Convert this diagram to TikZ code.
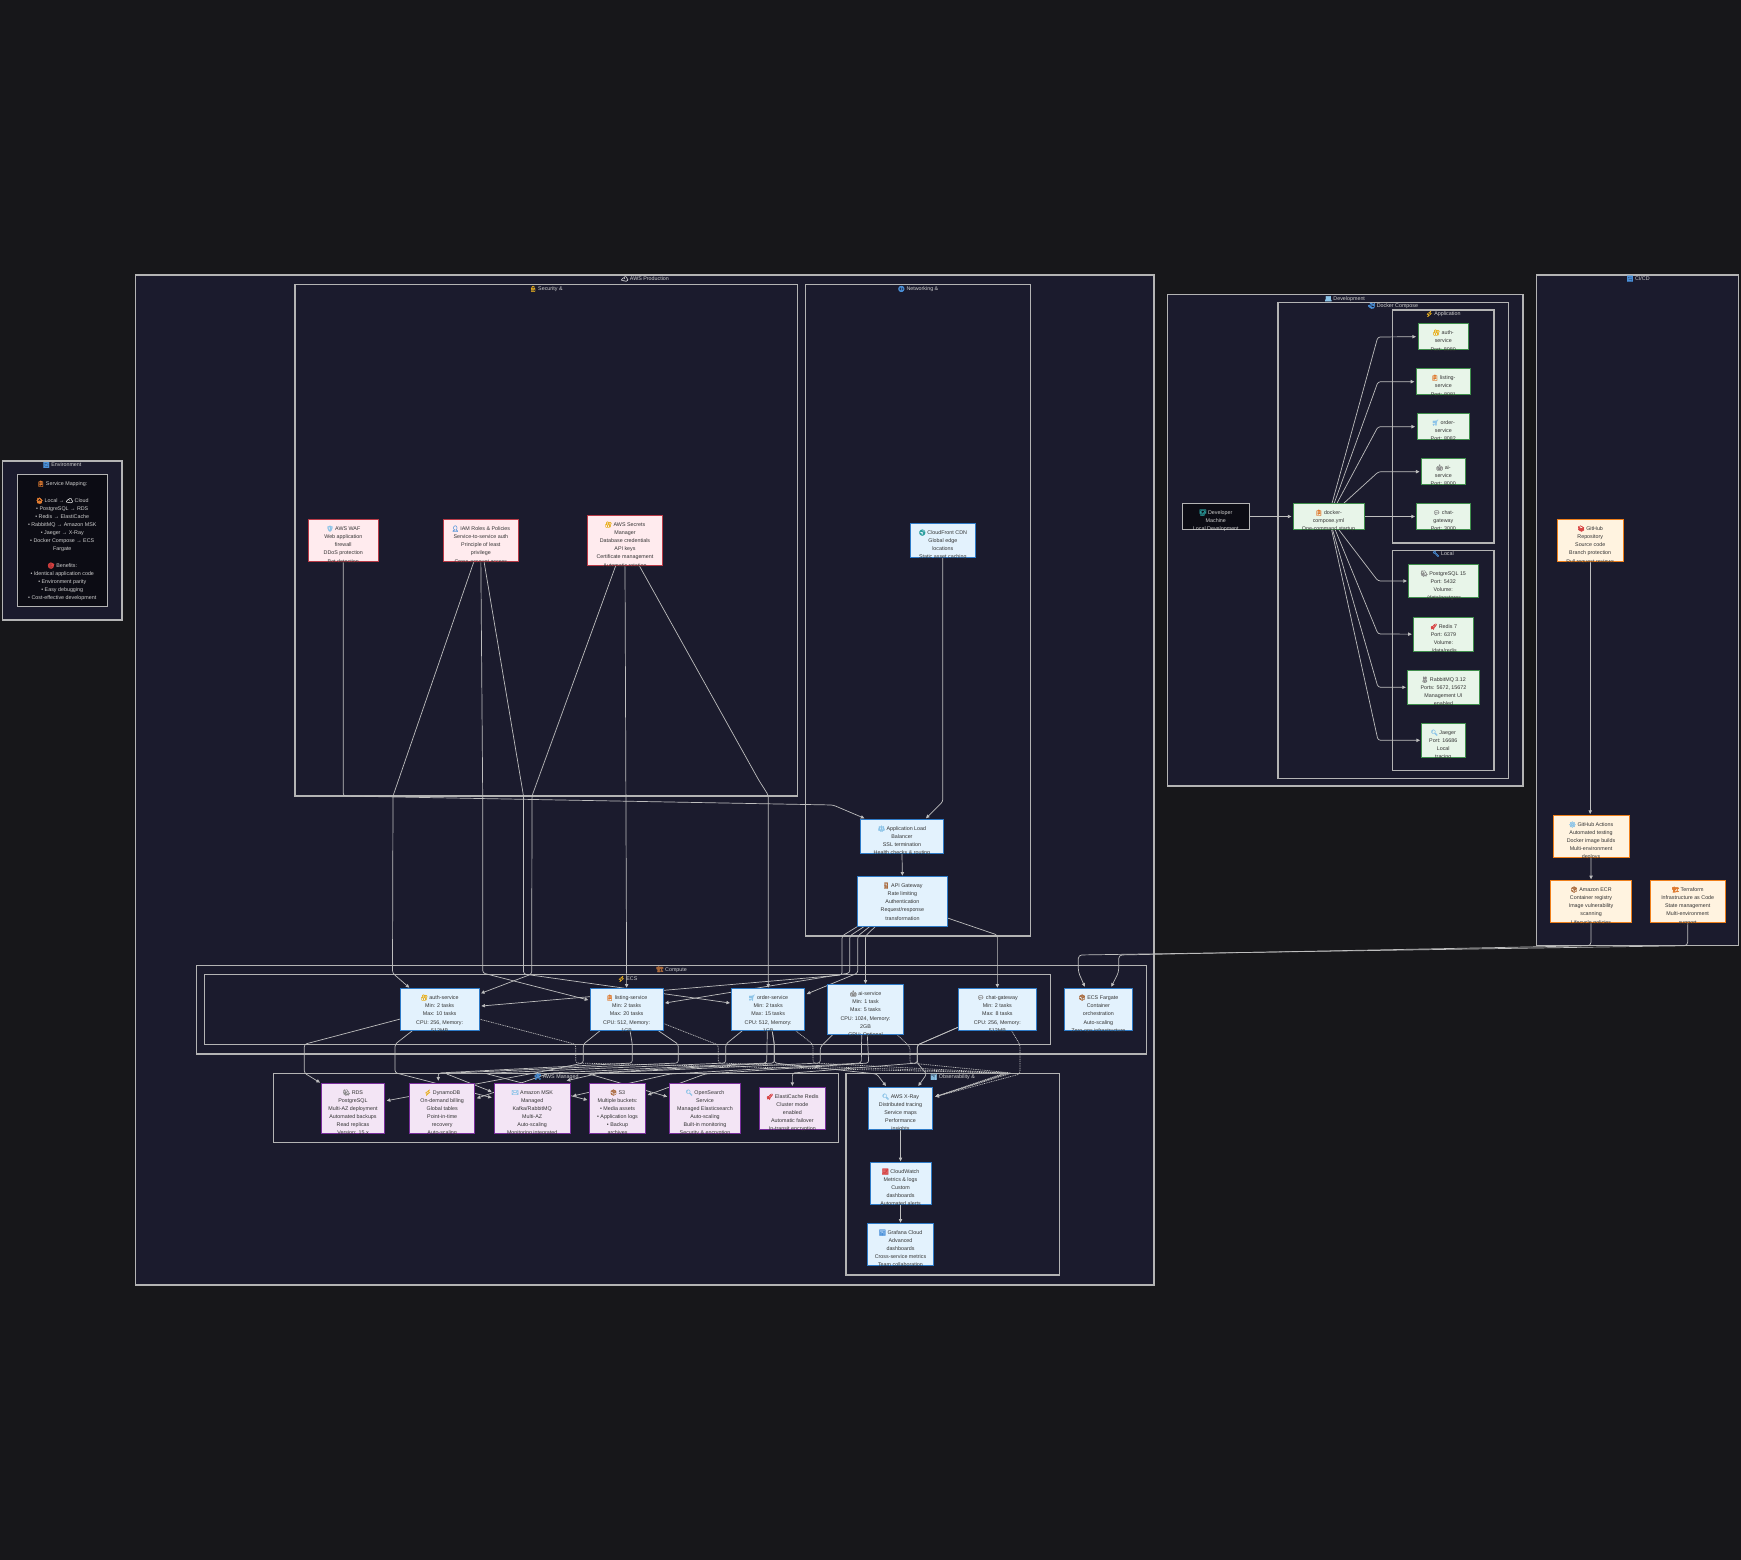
\documentclass[tikz,border=0pt]{standalone}
\usepackage{fontspec}
\setmainfont{Liberation Sans}
\newfontfamily\emj[Scale=1.08,FakeBold=1.5]{Noto Emoji}
\usetikzlibrary{arrows.meta}
\pgfdeclarelayer{clusters}
\pgfdeclarelayer{edges}
\pgfsetlayers{clusters,edges,main}
\definecolor{pagebg}{HTML}{17171A}
\definecolor{clfill}{HTML}{1B1B2D}
\definecolor{clline}{HTML}{B4B4B4}
\definecolor{edgecol}{HTML}{BEBEBE}
\definecolor{bodytext}{HTML}{333333}
\definecolor{lighttext}{HTML}{CFCFCF}
\definecolor{eBlue}{HTML}{4A90D9}
\definecolor{eLBlue}{HTML}{8CC4E8}
\definecolor{eYel}{HTML}{E8B020}
\definecolor{eOrg}{HTML}{E07B30}
\definecolor{eBrn}{HTML}{A8683A}
\definecolor{eRed}{HTML}{D84040}
\definecolor{eGry}{HTML}{8A8A8A}
\definecolor{eTeal}{HTML}{2A9D9D}
\definecolor{eWht}{HTML}{E8E8E8}
\newcommand{\emo}[2]{{\color{#1}\emj #2}}
\tikzset{
  base/.style={inner sep=0pt,outer sep=0pt,line width=1pt},
  prodbox/.style={base,fill=HTMLprodf,draw=HTMLprods},
  secbox/.style={base,fill=HTMLsecf,draw=HTMLsecs},
  mgdbox/.style={base,fill=HTMLmgdf,draw=HTMLmgds},
  devbox/.style={base,fill=HTMLdevf,draw=HTMLdevs},
  cicdbox/.style={base,fill=HTMLcif,draw=HTMLcis},
  darkbox/.style={base,fill=HTMLdkf,draw=clline},
  bodylabel/.style={inner sep=0pt,outer sep=0pt,align=center,anchor=north,text=bodytext,font=\fontsize{5.35}{8}\selectfont},
  lightlabel/.style={bodylabel,text=lighttext},
  clusterbox/.style={inner sep=0pt,outer sep=0pt,fill=clfill,draw=clline,line width=1.1pt},
  clusterlabel/.style={inner sep=0pt,outer sep=0pt,text=lighttext,font=\fontsize{5.35}{8}\selectfont},
  edge/.style={draw=edgecol,line width=.7pt,rounded corners=2.5pt,-{Triangle[length=3.6pt,width=3.3pt]}},
  dotedge/.style={edge,dash pattern=on 1pt off .8pt},
}
\definecolor{HTMLprodf}{HTML}{E3F2FD}\definecolor{HTMLprods}{HTML}{2E7BC8}
\definecolor{HTMLsecf}{HTML}{FFEBEE}\definecolor{HTMLsecs}{HTML}{B93A46}
\definecolor{HTMLmgdf}{HTML}{F3E5F5}\definecolor{HTMLmgds}{HTML}{7B2F9E}
\definecolor{HTMLdevf}{HTML}{E8F5E9}\definecolor{HTMLdevs}{HTML}{3F8F4C}
\definecolor{HTMLcif}{HTML}{FFF3E0}\definecolor{HTMLcis}{HTML}{EF7F1A}
\definecolor{HTMLdkf}{HTML}{0C0C14}
% name, box style, x1,y1,x2,y2, first line centre y, text style, text
\newcommand{\svc}[9]{%
  \node[#2,minimum width={(#5-#3)*1pt},minimum height={(#6-#4)*1pt}] (#1) at ({(#3+#5)/2},{(#4+#6)/2}) {};
  \begin{scope}
    \clip ({#3-6},#4) rectangle ({#5+6},{#6+1.3});
    \node[#8] (#1-text) at ({(#3+#5)/2},{#7-4.4}) {\rule{0pt}{7pt}#9};
  \end{scope}
}
% name, x1,y1,x2,y2, label, lx, ly
\newcommand{\cluster}[8]{%
  \begin{pgfonlayer}{clusters}
    \node[clusterbox,minimum width={(#4-#2)*1pt},minimum height={(#5-#3)*1pt}] (#1) at ({(#2+#4)/2},{(#3+#5)/2}) {};
  \end{pgfonlayer}
  \node[clusterlabel] (#1-label) at (#7,#8) {#6};
}
\begin{document}
\begin{tikzpicture}[x=1pt,y=-1pt]
\useasboundingbox (0,0) rectangle (1741,1560);
\begin{pgfonlayer}{clusters}
  \fill[pagebg] (0,0) rectangle (1741,1560);
\end{pgfonlayer}

% ---------- clusters
\cluster{clEnv}{2.7}{461}{122}{620}{\emo{eBlue}{🔄} Environment}{62}{465}
\cluster{clProd}{135.5}{275}{1154}{1285}{\emo{eWht}{☁} AWS Production}{645}{279}
\cluster{clSec}{295}{284.7}{797.5}{796}{\emo{eYel}{🔒} Security \&}{546}{289}
\cluster{clNet}{805.3}{284.7}{1030.7}{936}{\emo{eBlue}{🌐} Networking \&}{918}{289}
\cluster{clCompute}{196.3}{965.3}{1146.3}{1054}{\emo{eBrn}{🏗} Compute}{671.6}{969.3}
\cluster{clEcs}{204.7}{974.7}{1050.3}{1044.3}{\emo{eYel}{⚡} ECS}{627.5}{979}
\cluster{clMgd}{273.7}{1073.3}{838.7}{1142.7}{\emo{eBlue}{🛠} AWS Managed}{556.3}{1076.7}
\cluster{clObs}{846}{1073.3}{1059.3}{1275}{\emo{eLBlue}{📊} Observability \&}{952.5}{1077}
\cluster{clDev}{1167.4}{294.7}{1523}{786}{\emo{eLBlue}{💻} Development}{1344.8}{299}
\cluster{clDock}{1278}{302.3}{1508.5}{778.3}{\emo{eBlue}{🐳} Docker Compose}{1393}{306}
\cluster{clApp}{1392.6}{310}{1494}{543}{\emo{eYel}{⚡} Application}{1443}{314}
\cluster{clLoc}{1392.6}{550.3}{1494}{770.7}{\emo{eBlue}{🔧} Local}{1443}{553.7}
\cluster{clCi}{1536.3}{275}{1738.5}{945.7}{\emo{eBlue}{🔄} CI/CD}{1638}{278.7}

% ---------- environment note
\svc{note}{darkbox}{17}{474}{107.5}{606}{483}{lightlabel}{\emo{eOrg}{📋} Service Mapping:\\[9pt]
\emo{eOrg}{🏠} Local → \emo{eWht}{☁} Cloud\\
• PostgreSQL → RDS\\
• Redis → ElastiCache\\
• RabbitMQ → Amazon MSK\\
• Jaeger → X-Ray\\
• Docker Compose → ECS\\
Fargate\\[9pt]
\emo{eRed}{🎯} Benefits:\\
• Identical application code\\
• Environment parity\\
• Easy debugging\\
• Cost-effective development}

% ---------- security
\svc{waf}{secbox}{308.3}{519.3}{378.3}{561.7}{528}{bodylabel}{\emo{eLBlue}{🛡} AWS WAF\\Web application\\firewall\\DDoS protection\\[1pt]Bot detection}
\svc{iam}{secbox}{443.7}{519.3}{518}{561.7}{528}{bodylabel}{\emo{eBlue}{👤} IAM Roles \& Policies\\Service-to-service auth\\Principle of least\\privilege\\[1pt]Cross-account access}
\svc{sec}{secbox}{587.3}{515.3}{662.7}{565.7}{524}{bodylabel}{\emo{eYel}{🔐} AWS Secrets\\Manager\\Database credentials\\API keys\\Certificate management\\[1pt]Automatic rotation}

% ---------- networking
\svc{cf}{prodbox}{910.3}{523.3}{975.3}{557.3}{532}{bodylabel}{\emo{eTeal}{🌍} CloudFront CDN\\Global edge\\locations\\Static asset caching}
\svc{alb}{prodbox}{860.4}{819.3}{943.5}{853}{828}{bodylabel}{\emo{eLBlue}{⚖} Application Load\\Balancer\\SSL termination\\Health checks \& routing}
\svc{api}{prodbox}{857.3}{876.7}{947.5}{926.3}{885}{bodylabel}{\emo{eBrn}{🚪} API Gateway\\Rate limiting\\Authentication\\Request/response\\[1pt]transformation}

% ---------- compute
\svc{pAuth}{prodbox}{400.3}{988.7}{479}{1030.7}{997}{bodylabel}{\emo{eYel}{🔐} auth-service\\Min: 2 tasks\\Max: 10 tasks\\[1pt]CPU: 256, Memory:\\512MB}
\svc{pList}{prodbox}{590.3}{988.7}{663}{1030.7}{997}{bodylabel}{\emo{eOrg}{📋} listing-service\\Min: 2 tasks\\Max: 20 tasks\\[1pt]CPU: 512, Memory:\\1GB}
\svc{pOrd}{prodbox}{731.7}{988.7}{804.7}{1030.7}{997}{bodylabel}{\emo{eLBlue}{🛒} order-service\\Min: 2 tasks\\Max: 15 tasks\\[1pt]CPU: 512, Memory:\\1GB}
\svc{pAI}{prodbox}{827.7}{984.7}{903.3}{1034.7}{993}{bodylabel}{\emo{eGry}{🤖} ai-service\\Min: 1 task\\Max: 5 tasks\\[1pt]CPU: 1024, Memory:\\2GB\\GPU: Optional}
\svc{pChat}{prodbox}{958}{988.7}{1036.7}{1030.7}{997}{bodylabel}{\emo{eGry}{💬} chat-gateway\\Min: 2 tasks\\Max: 8 tasks\\[1pt]CPU: 256, Memory:\\512MB}
\svc{far}{prodbox}{1064}{988.7}{1132.7}{1030.7}{997}{bodylabel}{\emo{eBrn}{📦} ECS Fargate\\Container\\orchestration\\[1pt]Auto-scaling\\Zero-ops infrastructure}

% ---------- managed
\svc{rds}{mgdbox}{321.3}{1083.3}{384.7}{1133.3}{1092}{bodylabel}{\emo{eGry}{🐘} RDS\\PostgreSQL\\Multi-AZ deployment\\Automated backups\\Read replicas\\Version: 15.x}
\svc{dyn}{mgdbox}{409.7}{1083.3}{474.7}{1133.3}{1092}{bodylabel}{\emo{eYel}{⚡} DynamoDB\\On-demand billing\\Global tables\\Point-in-time\\recovery\\Auto-scaling}
\svc{msk}{mgdbox}{494}{1083.3}{570.3}{1133.3}{1092}{bodylabel}{\emo{eLBlue}{✉} Amazon MSK\\Managed\\Kafka/RabbitMQ\\Multi-AZ\\Auto-scaling\\Monitoring integrated}
\svc{s3}{mgdbox}{589.7}{1083.3}{645.3}{1133.3}{1092}{bodylabel}{\emo{eBrn}{📦} S3\\Multiple buckets:\\• Media assets\\• Application logs\\• Backup\\archives}
\svc{os}{mgdbox}{669.7}{1083.3}{740.3}{1133.3}{1092}{bodylabel}{\emo{eLBlue}{🔍} OpenSearch\\Service\\Managed Elasticsearch\\Auto-scaling\\Built-in monitoring\\Security \& encryption}
\svc{cache}{mgdbox}{759.7}{1087.3}{825}{1129}{1096}{bodylabel}{\emo{eRed}{🚀} ElastiCache Redis\\Cluster mode\\enabled\\Automatic failover\\In-transit encryption}

% ---------- observability
\svc{xray}{prodbox}{868.7}{1087}{932.3}{1129}{1096}{bodylabel}{\emo{eLBlue}{🔍} AWS X-Ray\\Distributed tracing\\Service maps\\Performance\\insights}
\svc{cw}{prodbox}{870}{1162.3}{931}{1204}{1171}{bodylabel}{\emo{eRed}{📈} CloudWatch\\Metrics \& logs\\Custom\\dashboards\\Automated alerts}
\svc{graf}{prodbox}{867.3}{1223.7}{933.7}{1265.3}{1232}{bodylabel}{\emo{eBlue}{📊} Grafana Cloud\\Advanced\\dashboards\\Cross-service metrics\\Team collaboration}

% ---------- development
\svc{devm}{darkbox}{1182}{503.7}{1249.6}{529.3}{512}{lightlabel}{\emo{eTeal}{👨‍💻} Developer\\Machine\\Local Development}
\svc{cmp}{devbox}{1293}{503.7}{1364}{529.3}{512}{bodylabel}{\emo{eOrg}{📋} docker-\\compose.yml\\One-command startup}
\svc{dAuth}{devbox}{1418}{323.7}{1468.5}{349.7}{332}{bodylabel}{\emo{eYel}{🔐} auth-\\service\\[1pt]Port: 8080}
\svc{dList}{devbox}{1416.3}{368.7}{1470.4}{394.7}{377}{bodylabel}{\emo{eOrg}{📋} listing-\\service\\[1pt]Port: 8081}
\svc{dOrd}{devbox}{1417}{413.7}{1469.6}{439.7}{422}{bodylabel}{\emo{eLBlue}{🛒} order-\\service\\Port: 8082}
\svc{dAI}{devbox}{1421}{458.7}{1465.6}{484.7}{467}{bodylabel}{\emo{eGry}{🤖} ai-\\service\\Port: 8000}
\svc{dChat}{devbox}{1416.7}{503.7}{1470}{529.3}{512}{bodylabel}{\emo{eGry}{💬} chat-\\gateway\\Port: 3000}
\svc{dPg}{devbox}{1408.5}{564.3}{1478}{597.7}{573}{bodylabel}{\emo{eGry}{🐘} PostgreSQL 15\\Port: 5432\\Volume:\\./data/postgres}
\svc{dRed}{devbox}{1413.3}{617.3}{1473.7}{651}{626}{bodylabel}{\emo{eRed}{🚀} Redis 7\\Port: 6379\\Volume:\\./data/redis}
\svc{dRab}{devbox}{1407.4}{670.3}{1479.6}{704.3}{679}{bodylabel}{\emo{eGry}{🐰} RabbitMQ 3.12\\Ports: 5672, 15672\\Management UI\\enabled}
\svc{dJae}{devbox}{1421.5}{723.3}{1465}{757.3}{732}{bodylabel}{\emo{eLBlue}{🔍} Jaeger\\Port: 16686\\Local\\tracing}

% ---------- CI/CD
\svc{repo}{cicdbox}{1557.4}{519.3}{1623}{561.7}{528}{bodylabel}{\emo{eRed}{📚} GitHub\\Repository\\Source code\\Branch protection\\[1pt]Pull request reviews}
\svc{acts}{cicdbox}{1553}{815}{1629}{857.3}{824}{bodylabel}{\emo{eLBlue}{⚙} GitHub Actions\\Automated testing\\Docker image builds\\Multi-environment\\deploys}
\svc{ecr}{cicdbox}{1550.4}{880.3}{1631.7}{922.7}{889}{bodylabel}{\emo{eBrn}{📦} Amazon ECR\\Container registry\\Image vulnerability\\scanning\\[1pt]Lifecycle policies}
\svc{tf}{cicdbox}{1650.4}{880.3}{1725}{922.7}{889}{bodylabel}{\emo{eOrg}{🏗} Terraform\\Infrastructure as Code\\State management\\Multi-environment\\[1pt]support}

% ---------- connectors
\begin{pgfonlayer}{edges}
% networking
\draw[edge] (waf.south) -- (343.3,796) -- (833,805) -- ([xshift=-37.5pt,yshift=1pt]alb.north);
\draw[edge] (cf.south) -- (942.8,801.7) -- ([xshift=24pt,yshift=1pt]alb.north);
\draw[edge] (alb.south) -- ([yshift=1pt]api.north);
\draw[edge] ([xshift=-44.6pt]api.south) -- (842,936) -- (842,975) -- ([xshift=2.4pt,yshift=3.7pt]pAuth.east);
\draw[edge] ([xshift=-37.9pt]api.south) -- (849.7,936) -- (849.7,973) -- ([xshift=2pt,yshift=6.7pt]pList.east);
\draw[edge] ([xshift=-32.4pt]api.south) -- (857.8,936) -- (857.8,973) -- ([xshift=2pt,yshift=15.7pt]pOrd.east);
\draw[edge] ([xshift=-26.8pt]api.south) -- (865.4,936) -- ([yshift=1pt]pAI.north);
\draw[edge] ([yshift=-16.5pt]api.east) -- (997.35,935) -- ([yshift=1pt]pChat.north);
% IAM and secrets
\draw[edge] ([xshift=-7pt]iam.south) -- (393,796) -- (392.5,973) -- ([xshift=-30.3pt,yshift=1pt]pAuth.north);
\draw[edge] (iam.south) -- (482.7,796) -- (482.7,973) -- ([xshift=-2pt,yshift=9.7pt]pList.west);
\draw[edge] ([xshift=3.2pt]iam.south) -- (523.5,796) -- (523.5,974) -- ([xshift=-1.7pt,yshift=6.7pt]pOrd.west);
\draw[edge] ([xshift=-9.3pt]sec.south) -- (532,796) -- (531.7,974) -- ([xshift=2pt,yshift=16.4pt]pAuth.east);
\draw[edge] (sec.south) -- ([yshift=1pt]pList.north);
\draw[edge] ([xshift=14.3pt]sec.south) -- (758.7,780) -- (768.2,795) -- ([yshift=1pt]pOrd.north);
% services to managed
\draw[edge] ([yshift=-9.3pt]pAuth.west) -- (304.3,1044.3) -- (304.3,1073) -- ([xshift=-1.3pt,yshift=.7pt]rds.north west);
\draw[edge] ([xshift=-27.3pt]pAuth.south) -- (395,1044.3) -- (395,1072.7) -- ([xshift=-2.3pt,yshift=10.6pt]msk.west);
\draw[edge] ([xshift=-26.6pt]pList.south) -- (583.3,1044.3) -- (583.3,1063) -- (540,1072) -- ([xshift=2pt,yshift=7.6pt]rds.east);
\draw[edge] ([xshift=3.4pt]pList.south) -- (632.3,1044.3) -- (632.3,1063) -- (438.3,1073) -- ([xshift=-3.9pt,yshift=2.6pt]dyn.north);
\draw[edge] ([xshift=31.7pt]pList.south) -- (678.3,1044.3) -- (678.3,1063) -- (445,1073.3) -- ([xshift=-2.3pt,yshift=16.6pt]msk.west);
\draw[edge] ([xshift=-25.9pt]pOrd.south) -- (725.7,1044.3) -- (725.7,1063) -- (485,1073.3) -- ([xshift=-2.4pt,yshift=8.3pt]s3.west);
\draw[edge] ([xshift=-.9pt]pOrd.south) -- (766.7,1063) -- (550,1073) -- ([xshift=2pt,yshift=10pt]dyn.east);
\draw[edge] ([xshift=4pt]pOrd.south) -- (774.3,1044.3) -- (774.3,1063) -- (586.7,1073.3) -- ([xshift=-2.4pt,yshift=11.6pt]os.west);
\draw[edge] ([xshift=-32.8pt]pAI.south) -- (820.3,1047) -- (820.3,1063) -- (600,1073) -- ([xshift=34.5pt,yshift=2.6pt]msk.north);
\draw[edge] ([xshift=-3.8pt]pAI.south) -- (861.3,1063) -- (670,1074) -- ([xshift=2.4pt,yshift=12.3pt]msk.east);
\draw[edge] ([xshift=1.8pt]pAI.south) -- (868.7,1063) -- (705,1074) -- ([xshift=2.4pt,yshift=13.3pt]s3.east);
\draw[edge] ([yshift=-17.6pt]pChat.west) -- (917.3,1045) -- (917.3,1063) -- (792.4,1073) -- ([yshift=1.3pt]cache.north);
\draw[edge] ([xshift=4pt]pOrd.south) -- (774.3,1044.3) -- (774.3,1063) -- (876.7,1074) -- ([xshift=-14.5pt,yshift=1pt]xray.north);
\draw[edge] ([yshift=-17.6pt]pChat.west) -- (917.3,1045) -- (917.3,1063) -- (926.7,1074) -- ([xshift=17.8pt,yshift=1pt]xray.north);
% services to tracing
\draw[dotedge] ([yshift=-9.3pt]pAuth.east) -- (575.7,1044.3) -- (575.7,1063) -- (1005,1073) -- ([xshift=3pt,yshift=11.3pt]xray.east);
\draw[dotedge] ([yshift=-13.6pt]pList.east) -- (718.3,1045) -- (718.3,1063) -- (1007,1073) -- ([xshift=3pt,yshift=11.3pt]xray.east);
\draw[dotedge] ([xshift=27.5pt]pOrd.south) -- (813,1044.3) -- (813,1063) -- (1009,1073) -- ([xshift=3pt,yshift=11.3pt]xray.east);
\draw[dotedge] ([xshift=31.8pt]pAI.south) -- (910,1047) -- (910,1063) -- (1012,1073) -- ([xshift=3pt,yshift=11.3pt]xray.east);
\draw[dotedge] ([xshift=14.3pt]pChat.south) -- (1020,1045) -- (1020,1074) -- ([xshift=3pt,yshift=11.3pt]xray.east);
% observability chain
\draw[edge] (xray.south) -- ([yshift=1pt]cw.north);
\draw[edge] (cw.south) -- ([yshift=1pt]graf.north);
% development
\draw[edge] (devm.east) -- ([xshift=-1.5pt]cmp.west);
\draw[edge] ([xshift=3.4pt]cmp.north) -- (1377.8,337) -- ([xshift=-2pt]dAuth.west);
\draw[edge] ([xshift=5.5pt]cmp.north) -- (1378,381.7) -- ([xshift=-2pt]dList.west);
\draw[edge] ([xshift=8.2pt]cmp.north) -- (1378,426.7) -- ([xshift=-2pt]dOrd.west);
\draw[edge] ([xshift=14.8pt]cmp.north) -- (1378.5,471.7) -- ([xshift=-1.5pt]dAI.west);
\draw[edge] (cmp.east) -- ([xshift=-1.7pt]dChat.west);
\draw[edge] ([xshift=10pt]cmp.south) -- (1378,581) -- ([xshift=-1.5pt]dPg.west);
\draw[edge] ([xshift=6.5pt]cmp.south) -- (1378,634) -- ([xshift=-1.5pt]dRed.west);
\draw[edge] ([xshift=4pt]cmp.south) -- (1378,687.3) -- ([xshift=-1.5pt]dRab.west);
\draw[edge] ([xshift=3pt]cmp.south) -- (1378,740.3) -- ([xshift=-1.5pt]dJae.west);
% CI/CD
\draw[edge] (repo.south) -- ([xshift=-.8pt,yshift=1pt]acts.north) ;
\draw[edge] (acts.south) -- ([yshift=1pt]ecr.north);
\draw[edge,rounded corners=3.5pt] (ecr.south) -- (1591,945.7) -- (1118.7,955) -- (1118.7,972) -- ([xshift=13pt,yshift=2pt]far.north);
\draw[edge,rounded corners=3.5pt] (tf.south) -- (1687.7,945.7) -- (1078.3,955) -- (1078.3,972) -- ([xshift=-13.5pt,yshift=2pt]far.north);
\end{pgfonlayer}
\end{tikzpicture}
\end{document}
